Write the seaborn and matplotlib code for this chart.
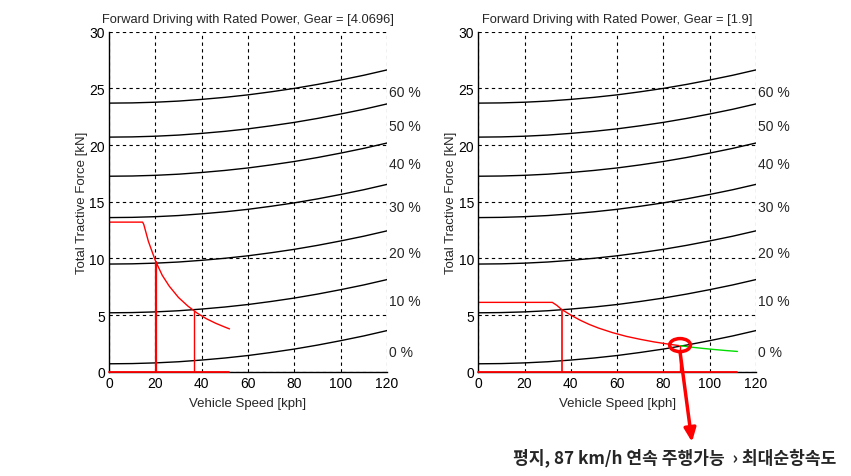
import numpy as np
import pandas as pd
import matplotlib
matplotlib.use("Agg")
import matplotlib.pyplot as plt
import seaborn as sns
from matplotlib.patches import Ellipse

sns.set_style("white")
plt.rcParams['font.family'] = ['Liberation Sans', 'DejaVu Sans']

# grade resistance curves (kN) vs vehicle speed (kph)
speed = [0, 10, 20, 30, 40, 50, 60, 70, 80, 90, 100, 110, 120]
grade_0 = [0.70, 0.72, 0.78, 0.88, 1.03, 1.21, 1.43, 1.70, 2.00, 2.35, 2.74, 3.16, 3.63]
grade_10 = [5.20, 5.22, 5.28, 5.38, 5.53, 5.71, 5.93, 6.20, 6.50, 6.85, 7.24, 7.66, 8.13]
grade_20 = [9.50, 9.52, 9.58, 9.68, 9.83, 10.01, 10.23, 10.50, 10.80, 11.15, 11.54, 11.96, 12.43]
grade_30 = [13.60, 13.62, 13.68, 13.78, 13.93, 14.11, 14.33, 14.60, 14.90, 15.25, 15.64, 16.06, 16.53]
grade_40 = [17.25, 17.27, 17.33, 17.43, 17.58, 17.76, 17.98, 18.25, 18.55, 18.90, 19.29, 19.71, 20.18]
grade_50 = [20.70, 20.72, 20.78, 20.88, 21.03, 21.21, 21.43, 21.70, 22.00, 22.35, 22.74, 23.16, 23.63]
grade_60 = [23.70, 23.72, 23.78, 23.88, 24.03, 24.21, 24.43, 24.70, 25.00, 25.35, 25.74, 26.16, 26.63]
grades = [grade_0, grade_10, grade_20, grade_30, grade_40, grade_50, grade_60]
grade_labels = ['0 %', '10 %', '20 %', '30 %', '40 %', '50 %', '60 %']
label_y = [1.75, 6.2, 10.5, 14.5, 18.3, 21.7, 24.7]

# tractive force, gear 4.0696
g1_speed = [0, 14.5, 15, 17, 20, 23, 26, 30, 34, 38, 42, 46, 50, 52]
g1_force = [13.2, 13.2, 13.0, 11.5, 9.8, 8.5, 7.55, 6.55, 5.8, 5.18, 4.68, 4.28, 3.94, 3.78]
g1_marks = [(20.3, 9.7, 1.6), (36.5, 5.4, 1.0)]

# tractive force, gear 1.9
g2_speed = [0, 32, 34, 36, 40, 44, 48, 52, 58, 64, 70, 76, 82, 87]
g2_force = [6.12, 6.12, 5.85, 5.5, 5.0, 4.55, 4.17, 3.85, 3.45, 3.12, 2.86, 2.63, 2.44, 2.3]
g2_green_speed = [87, 92, 97, 102, 107, 112]
g2_green_force = [2.3, 2.17, 2.06, 1.96, 1.87, 1.79]
g2_marks = [(36.2, 5.4, 1.2), (87.2, 2.25, 1.0)]

fig = plt.figure(figsize=(8.51, 4.77), dpi=100)
ax1 = fig.add_axes([0.1281, 0.2186, 0.3267, 0.7128])
ax2 = fig.add_axes([0.5620, 0.2186, 0.3263, 0.7128])

panels = [
    (ax1, '[4.0696]', g1_speed, g1_force, g1_marks, 52, None, None),
    (ax2, '[1.9]', g2_speed, g2_force, g2_marks, 112, g2_green_speed, g2_green_force),
]

for ax, gear, sp, fo, marks, xend, gs, gf in panels:
    for vals in grades:
        sns.lineplot(x=speed, y=vals, color='black', lw=1, ax=ax)
    for lab, yy in zip(grade_labels, label_y):
        ax.text(121, yy, lab, fontsize=10, va='center', ha='left', clip_on=False)
    sns.lineplot(x=sp, y=fo, color='red', lw=1, ax=ax)
    if gs is not None:
        sns.lineplot(x=gs, y=gf, color='#00dd00', lw=1, ax=ax)
    for mx, my, mw in marks:
        ax.plot([mx, mx], [0, my], color='red', lw=mw)
    ax.plot([0, xend], [0, 0], color='red', lw=1.3, clip_on=False, zorder=5)

    ax.set_xlim(0, 120)
    ax.set_ylim(0, 30)
    ax.set_xticks(range(0, 121, 20))
    ax.set_yticks(range(0, 31, 5))
    ax.grid(True, color='black', linestyle=(0, (3, 3)), lw=0.8)
    for s in ['top', 'right']:
        ax.spines[s].set_visible(False)
    for s in ['left', 'bottom']:
        ax.spines[s].set_color('black')
        ax.spines[s].set_linewidth(1)
    ax.tick_params(direction='in', length=3, labelsize=10, colors='black', pad=3)
    ax.set_title('Forward Driving with Rated Power, Gear = ' + gear, fontsize=9.3, pad=7)
    ax.set_xlabel('Vehicle Speed [kph]', fontsize=9.5, labelpad=5)
    ax.set_ylabel('Total Tractive Force [kN]', fontsize=9.5, labelpad=1)

# highlight of cruising point on the right panel
ax2.add_patch(Ellipse((87.2, 2.35), 9, 1.15, fill=False, edgecolor='red', lw=2.5, zorder=6))
ax2.annotate('', xy=(692 / 851, 1 - 443 / 477), xycoords='figure fraction',
             xytext=(87.2, 1.75), textcoords='data',
             arrowprops=dict(arrowstyle='-|>,head_width=0.35,head_length=0.8',
                             color='red', lw=2.5, shrinkA=0, shrinkB=0))

fig.text(513 / 851, 1 - 458 / 477, '평지, 87 km/h 연속 주행가능  › 최대순항속도',
         fontsize=12.3, fontweight='bold', va='center', ha='left',
         family=['Noto Sans CJK KR', 'DejaVu Sans'])

fig.savefig('out.png', dpi=100)
